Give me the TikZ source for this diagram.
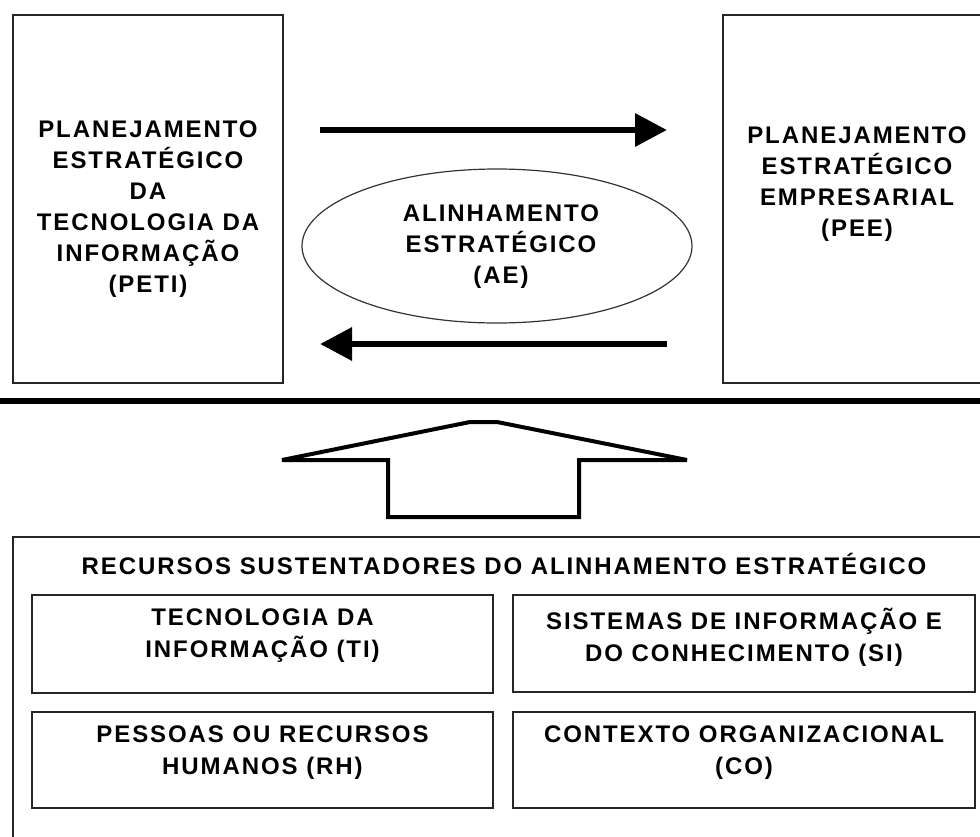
\documentclass[tikz,border=0pt]{standalone}
\usepackage{fontspec}
\setmainfont{Liberation Sans}[LetterSpace=8]
\usetikzlibrary{arrows.meta,shapes.geometric}

\tikzset{
  box/.style={draw=black!85, line width=1.8pt, rectangle, inner sep=0pt},
  txt/.style={align=center, inner sep=0pt,
    font=\fontsize{24}{31}\selectfont\bfseries},
  smalltxt/.style={align=center, inner sep=0pt,
    font=\fontsize{24}{32}\selectfont\bfseries},
  flow/.style={line width=6.5pt, -{Triangle[length=32pt,width=32pt]}},
}

\begin{document}
\begin{tikzpicture}[x=1pt, y=-1pt]
\useasboundingbox (0,0) rectangle (980,836);
\clip (0,0) rectangle (980,836);

% planning boxes
\node[box, minimum width=270, minimum height=368] (peti) at (148,199) {};
\node[txt] (peti-text) at (148,209)
  {PLANEJAMENTO\\ESTRATÉGICO\\DA\\TECNOLOGIA DA\\INFORMAÇÃO\\(PETI)};

\node[box, minimum width=268, minimum height=368] (pee) at (857,199) {};
\node[txt] (pee-text) at (857,184)
  {PLANEJAMENTO\\ESTRATÉGICO\\EMPRESARIAL\\(PEE)};

% alignment in the middle
\node[draw=black!80, line width=1.2pt, ellipse, minimum width=390,
      minimum height=154, inner sep=0pt] (ae) at (497,246) {};
\node[txt] (ae-text) at (501,247) {ALINHAMENTO\\ESTRATÉGICO\\(AE)};

\coordinate (r1) at (320,130);
\coordinate (r2) at (667,130);
\coordinate (l1) at (667,344);
\coordinate (l2) at (320,344);
\draw[flow] (r1) -- (r2);
\draw[flow] (l1) -- (l2);

% separator
\draw[line width=5.5pt] (0,401) -- (980,401);

% upward block arrow
\draw[line width=4pt, line join=miter]
  (282,460) -- (470,422) -- (497,422) -- (687,460) -- (579,460)
  -- (579,517) -- (388,517) -- (388,460) -- cycle;

% supporting resources
\draw[draw=black!85, line width=1.8pt] (13,850) -- (13,537) -- (995,537);
\node[txt] (res-title) at (504,564)
  {RECURSOS SUSTENTADORES DO ALINHAMENTO ESTRATÉGICO};

\node[box, minimum width=461, minimum height=98] (ti) at (262.5,644) {};
\node[smalltxt] (ti-text) at (262.5,636) {TECNOLOGIA DA\\INFORMAÇÃO (TI)};

\node[box, minimum width=462, minimum height=97] (si) at (744,643.5) {};
\node[smalltxt] (si-text) at (744,637)
  {SISTEMAS DE INFORMAÇÃO E\\DO CONHECIMENTO (SI)};

\node[box, minimum width=461, minimum height=96] (rh) at (262.5,760) {};
\node[smalltxt] (rh-text) at (262.5,753) {PESSOAS OU RECURSOS\\HUMANOS (RH)};

\node[box, minimum width=462, minimum height=96] (co) at (744,760) {};
\node[smalltxt] (co-text) at (744,753) {CONTEXTO ORGANIZACIONAL\\(CO)};
\end{tikzpicture}
\end{document}
